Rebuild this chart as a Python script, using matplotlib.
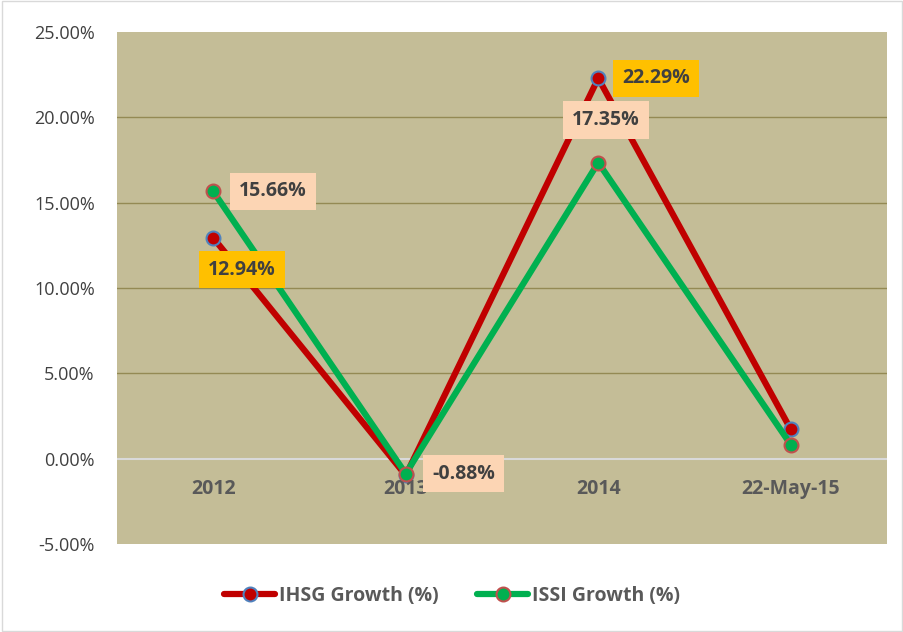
import matplotlib
matplotlib.use('Agg')
import matplotlib.pyplot as plt
from matplotlib.ticker import FuncFormatter
from matplotlib.patches import Rectangle

plt.rcParams['font.family'] = ['Open Sans', 'DejaVu Sans']

categories = ['2012', '2013', '2014', '22-May-15']
ihsg = [12.94, -0.98, 22.29, 1.72]
issi = [15.66, -0.88, 17.35, 0.82]
yticks = [-5, 0, 5, 10, 15, 20, 25]

fig = plt.figure(figsize=(9.04, 6.32), dpi=100)
fig.patches.append(Rectangle((0.002, 0.002), 0.996, 0.996, transform=fig.transFigure,
                             fill=False, edgecolor='#D9D9D9', linewidth=1))
ax = fig.add_axes([117/904, 1-544/632, 770/904, 512/632])
ax.set_facecolor('#C4BD97')

x = range(len(categories))
ax.plot(x, ihsg, color='#C00000', lw=4.5, marker='o', ms=10, mfc='#C00000',
        mec='#4F81BD', mew=1.5, label='IHSG Growth (%)', zorder=3, solid_capstyle='round')
ax.plot(x, issi, color='#00B050', lw=4.5, marker='o', ms=10, mfc='#00B050',
        mec='#C0504D', mew=1.5, label='ISSI Growth (%)', zorder=4, solid_capstyle='round')

ax.set_xlim(-0.5, 3.5)
ax.set_ylim(-5, 25)
ax.set_yticks(yticks)
ax.yaxis.set_major_formatter(FuncFormatter(lambda v, p: f'{v:.2f}%'))
ax.tick_params(axis='y', length=0, labelsize=13, colors='#404040', pad=16)
ax.set_xticks([])
for i, c in enumerate(categories):
    ax.text(i, -1.8, c, ha='center', va='center', fontsize=14, fontweight='bold', color='#595959')

for v in yticks:
    if v in (-5, 0, 25):
        continue
    ax.axhline(v, color='#948A54', lw=1, zorder=1)
ax.axhline(0, color='#D9D9D9', lw=1.5, zorder=1)
for s in ax.spines.values():
    s.set_visible(False)

peach = '#FCD5B4'
gold = '#FFC000'
labels = [
    (0, issi[0], f'{issi[0]:.2f}%', peach, 0.31, 0.0),
    (0, ihsg[0], f'{ihsg[0]:.2f}%', gold, 0.15, -1.87),
    (1, issi[1], f'{issi[1]:.2f}%', peach, 0.3, 0.0),
    (2, issi[2], f'{issi[2]:.2f}%', peach, 0.04, 2.5),
    (2, ihsg[2], f'{ihsg[2]:.2f}%', gold, 0.3, 0.0),
]
for xi, yv, t, col, dx, dy in labels:
    ax.text(xi + dx, yv + dy, t, ha='center', va='center', fontsize=14, fontweight='bold',
            color='#404040', zorder=5,
            bbox=dict(boxstyle='square,pad=0.45', fc=col, ec='none'))

fig.legend(loc='center', bbox_to_anchor=(0.5, 1-596/632), ncol=2, frameon=False,
           handlelength=2.6, handletextpad=0.2, columnspacing=2.0, labelcolor='#595959',
           prop={'weight': 'bold', 'size': 14})

fig.savefig('out.png', dpi=100)
